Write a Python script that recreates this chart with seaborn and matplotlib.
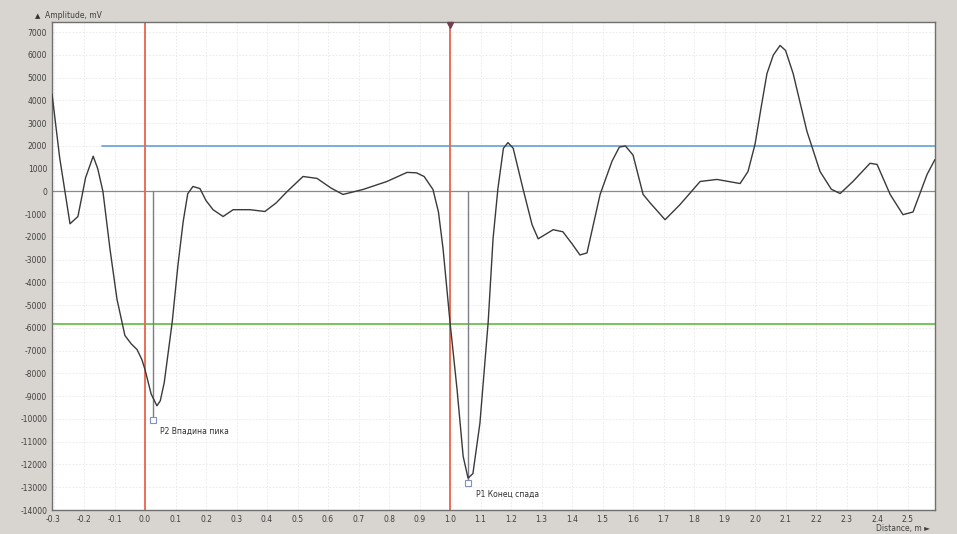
import matplotlib
matplotlib.use("Agg")
import matplotlib.pyplot as plt
import seaborn as sns
import pandas as pd

distance = [-0.305, -0.28, -0.246, -0.22, -0.195, -0.17, -0.155, -0.138, -0.115, -0.092,
            -0.066, -0.045, -0.026, -0.01, 0.0, 0.02, 0.039, 0.05, 0.063, 0.089, 0.108, 0.125,
            0.14, 0.157, 0.18, 0.2, 0.223, 0.256, 0.289, 0.344, 0.393, 0.43, 0.466, 0.518,
            0.564, 0.61, 0.649, 0.715, 0.793, 0.859, 0.89, 0.915, 0.944, 0.962, 0.977, 1.0,
            1.023, 1.043, 1.059, 1.075, 1.098, 1.125, 1.141, 1.157, 1.175, 1.19, 1.207, 1.239,
            1.269, 1.289, 1.338, 1.37, 1.4, 1.426, 1.449, 1.492, 1.531, 1.555, 1.575, 1.6,
            1.633, 1.656, 1.705, 1.754, 1.82, 1.875, 1.951, 1.977, 2.0, 2.02, 2.039, 2.06,
            2.082, 2.10, 2.125, 2.17, 2.213, 2.25, 2.279, 2.321, 2.377, 2.4, 2.443, 2.485,
            2.518, 2.564, 2.59]
amplitude = [4290, 1500, -1420, -1100, 600, 1550, 1000, 0, -2520, -4730,
             -6330, -6700, -6950, -7400, -7830, -8900, -9420, -9200, -8400, -5750, -3230, -1330,
             -100, 220, 130, -400, -800, -1100, -800, -800, -880, -500, 0, 660,
             575, 150, -130, 90, 440, 840, 820, 660, 90, -900, -2500, -5750,
             -8700, -11640, -12600, -12400, -10180, -5750, -2080, 130, 1900, 2150, 1900, 130,
             -1460, -2080, -1680, -1770, -2300, -2790, -2700, -130, 1330, 1950, 2000, 1600,
             -130, -500, -1240, -575, 440, 530, 350, 880, 2080, 3700, 5180, 6000,
             6420, 6200, 5180, 2650, 880, 100, -90, 440, 1240, 1190, -130, -1020,
             -900, 750, 1410]

cursor_x = [0.0, 1.0]
upper_level = 2000
lower_level = -5840
marker_x = [0.025, 1.06]
marker_y = [-10040, -12830]
marker_labels = ["P2 Впадина пика", "P1 Конец спада"]
x_ticks = [-0.3, -0.2, -0.1, 0.0, 0.1, 0.2, 0.3, 0.4, 0.5, 0.6, 0.7, 0.8, 0.9, 1.0,
           1.1, 1.2, 1.3, 1.4, 1.5, 1.6, 1.7, 1.8, 1.9, 2.0, 2.1, 2.2, 2.3, 2.4, 2.5]
y_ticks = list(range(7000, -15000, -1000))

sns.set_theme(style="white")
plt.rcParams['font.family'] = ['DejaVu Sans']

fig = plt.figure(figsize=(9.57, 5.34), dpi=100)
fig.patch.set_facecolor("#d8d5d0")
ax = fig.add_axes([52 / 957, 24 / 534, 883 / 957, 488 / 534])
ax.set_facecolor("white")

df = pd.DataFrame({"Distance": distance, "Amplitude": amplitude})

ax.set_xlim(-0.305, 2.59)
ax.set_ylim(-14000, 7450)

for xt in x_ticks:
    ax.axvline(xt, color="#ece6e6", lw=0.6, ls=(0, (2, 2)), zorder=0)
for yt in y_ticks:
    ax.axhline(yt, color="#ece6e6", lw=0.6, ls=(0, (2, 2)), zorder=0)

ax.axhline(0, color="#8a8a8a", lw=0.9, zorder=1)
ax.axhline(lower_level, color="#6cbf50", lw=1.3, zorder=1)
ax.plot([-0.14, 2.59], [upper_level, upper_level], color="#6fa8dc", lw=1.3, zorder=1)
for cx in cursor_x:
    ax.axvline(cx, color="#e8664a", lw=1.3, zorder=2)
ax.plot([1.0], [7300], marker="v", color="#704050", ms=5, zorder=5, clip_on=False)

for mx, my, lab in zip(marker_x, marker_y, marker_labels):
    ax.plot([mx, mx], [0, my], color="#7d7d8c", lw=1.0, zorder=2)
    ax.plot([mx], [my], marker="s", ms=5, mfc="white", mec="#8090c0", mew=0.8, zorder=4)
    ax.text(mx + 0.025, my - 500, lab, fontsize=5.5, color="#303030", va="center", ha="left")

sns.lineplot(data=df, x="Distance", y="Amplitude", ax=ax, color="#3a3a3a", lw=1.0,
             sort=False, zorder=3)

ax.set_xticks(x_ticks)
ax.set_xticklabels([f"{v:.1f}" for v in x_ticks])
ax.set_yticks(y_ticks)
ax.set_yticklabels([str(v) for v in y_ticks])
ax.tick_params(axis="both", labelsize=5.5, colors="#404040", length=2, pad=1.5)
ax.set_xlabel("")
ax.set_ylabel("")

for side in ["left", "bottom", "right", "top"]:
    ax.spines[side].set_visible(True)
    ax.spines[side].set_color("#707070")
    ax.spines[side].set_linewidth(1.0)

fig.text(35 / 957, 1 - 16 / 534, "▲", fontsize=5, color="#303030", va="center", ha="left")
fig.text(45 / 957, 1 - 16 / 534, "Amplitude, mV", fontsize=5.5, color="#404040", va="center", ha="left")
fig.text(930 / 957, 1 - 529 / 534, "Distance, m ►", fontsize=5.5, color="#404040", va="center", ha="right")

fig.savefig("out.png", dpi=100, facecolor=fig.get_facecolor())
